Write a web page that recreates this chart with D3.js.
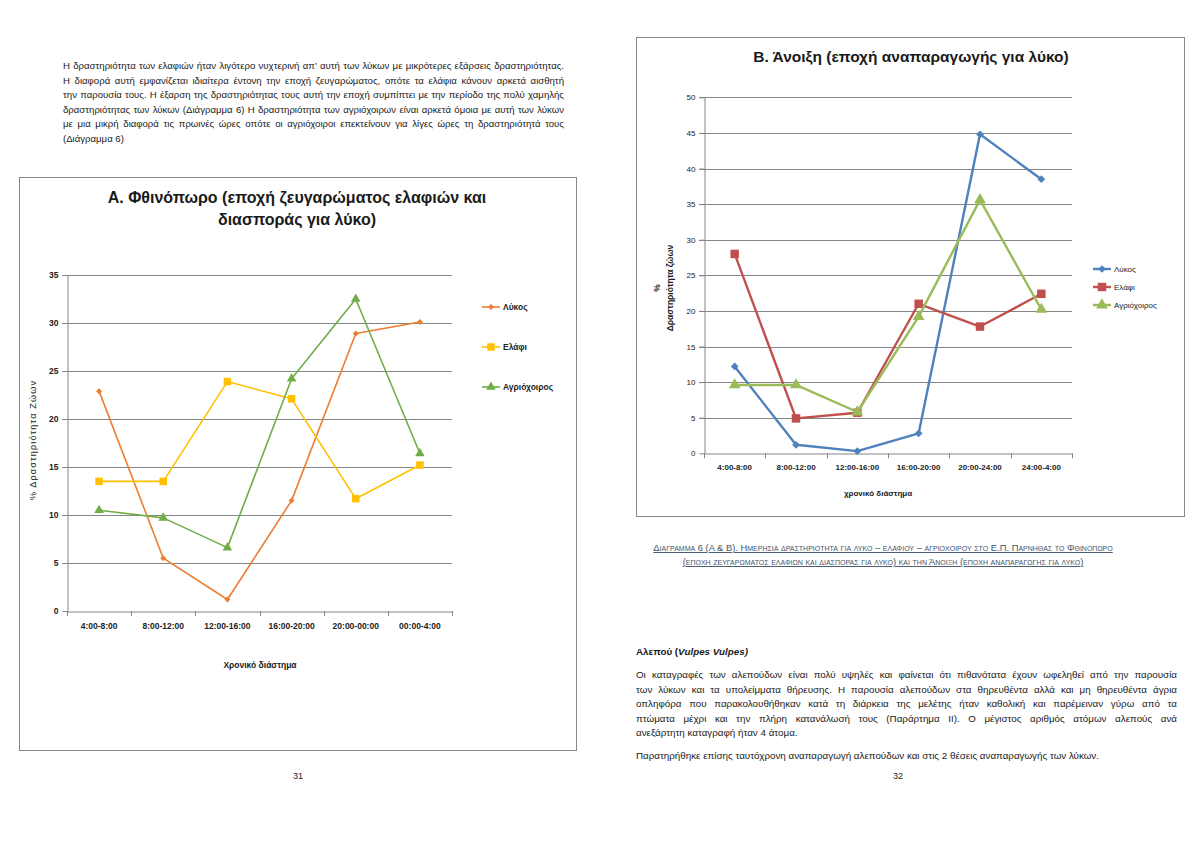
<!DOCTYPE html>
<html><head><meta charset="utf-8">
<script src="https://cdn.jsdelivr.net/npm/d3@7"></script>
<style>
html,body{margin:0;padding:0;background:#fff;}
#wrap{position:relative;width:1200px;height:848px;overflow:hidden;font-family:"Liberation Sans",Arial,sans-serif;}
svg{position:absolute;left:0;top:0;}
.ln{position:absolute;color:#1a1a1a;line-height:12px;height:12px;overflow:visible;}
.j{text-align:justify;text-align-last:justify;}
.meas{position:absolute;visibility:hidden;white-space:nowrap;left:0;top:0;}
</style></head>
<body><div id="wrap"></div>
<script>
// ---------- DATA ----------
const categoriesA = ["4:00-8:00","8:00-12:00","12:00-16:00","16:00-20:00","20:00-00:00","00:00-4:00"];
const lykosA  = [22.9, 5.5, 1.2, 11.5, 28.9, 30.1];
const elafiA  = [13.5, 13.5, 23.9, 22.1, 11.7, 15.2];
const agrioA  = [10.5, 9.7, 6.6, 24.2, 32.5, 16.4];
const categoriesB = ["4:00-8:00","8:00-12:00","12:00-16:00","16:00-20:00","20:00-24:00","24:00-4:00"];
const lykosB  = [12.2, 1.2, 0.3, 2.8, 44.8, 38.5];
const elafiB  = [28.0, 4.9, 5.7, 21.0, 17.8, 22.4];
const agrioB  = [9.6, 9.6, 5.8, 19.2, 35.6, 20.2];
const seriesNames = ["Λύκος","Ελάφι","Αγριόχοιρος"];
const ticksA = [0,5,10,15,20,25,30,35];
const ticksB = [0,5,10,15,20,25,30,35,40,45,50];

const leftParagraph = [
 "Η δραστηριότητα των ελαφιών ήταν λιγότερο νυχτερινή απ’ αυτή των λύκων με μικρότερες εξάρσεις δραστηριότητας.",
 "Η διαφορά αυτή εμφανίζεται ιδιαίτερα έντονη την εποχή ζευγαρώματος, οπότε τα ελάφια κάνουν αρκετά αισθητή",
 "την παρουσία τους.  Η έξαρση της δραστηριότητας τους αυτή την εποχή συμπίπτει με την περίοδο της πολύ χαμηλής",
 "δραστηριότητας των λύκων (Διάγραμμα 6) Η δραστηριότητα των αγριόχοιρων είναι αρκετά όμοια με αυτή των λύκων",
 "με μια μικρή διαφορά τις πρωινές ώρες οπότε οι αγριόχοιροι επεκτείνουν για λίγες ώρες τη δραστηριότητά τους",
 "(Διάγραμμα  6)"
];
const rightParagraph = [
 "Οι καταγραφές των αλεπούδων είναι πολύ υψηλές και φαίνεται ότι πιθανότατα έχουν ωφεληθεί από την παρουσία",
 "των λύκων και τα υπολείμματα θήρευσης. Η παρουσία αλεπούδων στα θηρευθέντα αλλά και μη θηρευθέντα άγρια",
 "οπληφόρα που παρακολουθήθηκαν κατά τη διάρκεια της μελέτης ήταν καθολική και παρέμειναν γύρω από τα",
 "πτώματα μέχρι και την πλήρη κατανάλωσή τους (Παράρτημα ΙΙ). Ο μέγιστος αριθμός ατόμων αλεπούς ανά",
 "ανεξάρτητη καταγραφή ήταν 4 άτομα."
];
const lastRightLine = "Παρατηρήθηκε επίσης ταυτόχρονη αναπαραγωγή αλεπούδων και στις 2 θέσεις αναπαραγωγής των λύκων.";
const captionLines = [
 "Διαγραμμα 6 (Α & Β). Ημερησια δραστηριοτητα για λυκο – ελαφιου – αγριοχοιρου στο Ε.Π. Παρνηθας το Φθινοπωρο",
 "(εποχη ζευγαρωματος ελαφιων και διασπορας για λυκο) και την Άνοιξη (εποχη αναπαραγωγης για λυκο)"
];

// ---------- PAGE ----------
const wrap = d3.select("#wrap");
function fitSize(lines, width, maxSize){
  const m = wrap.append("span").attr("class","meas").style("font-size","10px");
  let maxW = 0;
  lines.forEach(t=>{ m.text(t); maxW = Math.max(maxW, m.node().getBoundingClientRect().width); });
  m.remove();
  return Math.min(maxSize, 10*(width-4)/maxW);
}
function addLines(lines, left, width, top0, step, size, justifyCount){
  lines.forEach((t,i)=>{
    wrap.append("div").attr("class","ln"+(i<justifyCount?" j":""))
      .style("left",left+"px").style("width",width+"px")
      .style("top",(top0+i*step-6)+"px").style("font-size",size+"px")
      .text(t);
  });
}
const leftSize = fitSize(leftParagraph.slice(0,5), 501, 9.6);
addLines(leftParagraph, 63, 501, 66, 14.6, leftSize, 5);
const rightSize = fitSize(rightParagraph.slice(0,4), 541, 9.8);
addLines(rightParagraph, 636, 541, 675, 14.5, rightSize, 4);
wrap.append("div").attr("class","ln").style("left","636px").style("top",(756-6)+"px")
  .style("font-size",rightSize+"px").text(lastRightLine);
wrap.append("div").attr("class","ln").style("left","636px").style("top",(652-6)+"px")
  .style("font-size",rightSize+"px").style("font-weight","bold")
  .html("Αλεπού (<i>Vulpes Vulpes)</i>");

const svg = wrap.append("svg").attr("width",1200).attr("height",848)
  .style("font-family","'Liberation Sans',Arial,sans-serif");

// page numbers
svg.append("text").attr("x",298).attr("y",779).attr("text-anchor","middle").attr("font-size",9).attr("fill","#222").text("31");
svg.append("text").attr("x",898).attr("y",779).attr("text-anchor","middle").attr("font-size",9).attr("fill","#222").text("32");

// caption
captionLines.forEach((t,i)=>{
  svg.append("text").attr("x",883).attr("y",551+i*14).attr("text-anchor","middle")
    .attr("font-size",9.4).attr("fill","#44546A").style("font-variant","small-caps")
    .style("text-decoration","underline").text(t);
});

const grid = "#868686";
function symbolPath(type, size){ return d3.symbol().type(type).size(size)(); }

function drawChart(cfg){
  const g = svg.append("g");
  g.append("rect").attr("x",cfg.frame[0]+0.5).attr("y",cfg.frame[1]+0.5)
    .attr("width",cfg.frame[2]).attr("height",cfg.frame[3])
    .attr("fill","none").attr("stroke",grid).attr("stroke-width",1);
  const x = d3.scaleBand().domain(cfg.cats).range([cfg.x0,cfg.x1]);
  const y = d3.scaleLinear().domain([0,cfg.ymax]).range([cfg.y0,cfg.y1]);
  g.append("g").selectAll("line").data(cfg.ticks.filter(d=>d>0)).join("line")
    .attr("x1",cfg.x0-5).attr("x2",cfg.x1)
    .attr("y1",d=>Math.round(y(d))+0.5).attr("y2",d=>Math.round(y(d))+0.5)
    .attr("stroke",grid).attr("stroke-width",1);
  const ya = g.append("g").attr("transform",`translate(${cfg.x0+0.5},0)`)
    .call(d3.axisLeft(y).tickValues(cfg.ticks).tickSize(5).tickSizeOuter(0));
  ya.select(".domain").attr("stroke",grid);
  ya.selectAll(".tick line").attr("stroke",grid);
  ya.selectAll(".tick text").attr("font-size",cfg.tickSize).attr("font-weight",cfg.yBold?"bold":"normal")
    .attr("fill","#222").attr("x",-9).style("font-family","'Liberation Sans',Arial,sans-serif");
  const xa = g.append("g").attr("transform",`translate(0,${Math.round(cfg.y0)+0.5})`)
    .call(d3.axisBottom(x).tickSize(0).tickSizeOuter(0));
  xa.select(".domain").attr("stroke",grid);
  xa.selectAll(".tick text").attr("font-size",cfg.tickSize).attr("font-weight","bold")
    .attr("fill","#222").attr("y",cfg.xLabelDy).style("font-family","'Liberation Sans',Arial,sans-serif");
  const bounds = cfg.cats.map((c)=>x(c)).concat([cfg.x1]);
  g.append("g").selectAll("line").data(bounds).join("line")
    .attr("x1",d=>Math.round(d)+0.5).attr("x2",d=>Math.round(d)+0.5)
    .attr("y1",cfg.y0).attr("y2",cfg.y0+5).attr("stroke",grid);
  cfg.series.forEach((s)=>{
    const line = d3.line().x((d,i)=>x(cfg.cats[i])+x.bandwidth()/2).y(d=>y(d));
    g.append("path").datum(s.values).attr("d",line).attr("fill","none")
      .attr("stroke",s.color).attr("stroke-width",cfg.lw).attr("stroke-linejoin","round");
    g.append("g").selectAll("path").data(s.values).join("path")
      .attr("transform",(d,i)=>`translate(${x(cfg.cats[i])+x.bandwidth()/2},${y(d)}) rotate(${s.rot||0})`)
      .attr("d",symbolPath(s.symbol,s.size)).attr("fill",s.color);
  });
  cfg.series.forEach((s,i)=>{
    const ly = cfg.legend.y0 + i*cfg.legend.step;
    g.append("line").attr("x1",cfg.legend.x).attr("x2",cfg.legend.x+18).attr("y1",ly).attr("y2",ly)
      .attr("stroke",s.color).attr("stroke-width",cfg.lw);
    g.append("path").attr("transform",`translate(${cfg.legend.x+9},${ly}) rotate(${s.rot||0})`)
      .attr("d",symbolPath(s.symbol,s.size)).attr("fill",s.color);
    g.append("text").attr("x",cfg.legend.x+21).attr("y",ly).attr("dy","0.35em")
      .attr("font-size",cfg.legend.size).attr("font-weight",cfg.legend.bold?"bold":"normal")
      .attr("fill","#222").text(s.name);
  });
  return g;
}

const gA = drawChart({
  frame:[19,177,557,573], cats:categoriesA, x0:67, x1:452, y0:611, y1:275, ymax:35,
  ticks:ticksA, tickSize:8.5, yBold:true, xLabelDy:11, lw:1.6,
  series:[
    {name:seriesNames[0], values:lykosA, color:"#ED7D31", symbol:d3.symbolSquare, size:18, rot:45},
    {name:seriesNames[1], values:elafiA, color:"#FFC000", symbol:d3.symbolSquare, size:56},
    {name:seriesNames[2], values:agrioA, color:"#70AD47", symbol:d3.symbolTriangle, size:40}
  ],
  legend:{x:482, y0:307, step:40, size:8.5, bold:true}
});
gA.append("text").attr("x",297).attr("y",203).attr("text-anchor","middle").attr("font-size",16)
  .attr("font-weight","bold").attr("fill","#1a1a1a").text("Α. Φθινόπωρο (εποχή ζευγαρώματος ελαφιών και");
gA.append("text").attr("x",297).attr("y",225).attr("text-anchor","middle").attr("font-size",16)
  .attr("font-weight","bold").attr("fill","#1a1a1a").text("διασποράς για λύκο)");
gA.append("text").attr("x",260).attr("y",668).attr("text-anchor","middle").attr("font-size",8.5)
  .attr("font-weight","bold").attr("fill","#1a1a1a").text("Χρονικό διάστημα");
gA.append("text").attr("transform","translate(36,440) rotate(-90)").attr("text-anchor","middle")
  .attr("font-size",9).attr("letter-spacing",1.2).attr("fill","#1a1a1a").text("% Δραστηριότητα Ζώων");

const gB = drawChart({
  frame:[636,37,548,479], cats:categoriesB, x0:704, x1:1072, y0:453.3, y1:97.3, ymax:50,
  ticks:ticksB, tickSize:8, yBold:false, xLabelDy:11, lw:2.4,
  series:[
    {name:seriesNames[0], values:lykosB, color:"#4F81BD", symbol:d3.symbolSquare, size:30, rot:45},
    {name:seriesNames[1], values:elafiB, color:"#C0504D", symbol:d3.symbolSquare, size:72},
    {name:seriesNames[2], values:agrioB, color:"#9BBB59", symbol:d3.symbolTriangle, size:60}
  ],
  legend:{x:1093, y0:269, step:18, size:8, bold:false}
});
gB.append("text").attr("x",911).attr("y",62).attr("text-anchor","middle").attr("font-size",15.5)
  .attr("font-weight","bold").attr("fill","#1a1a1a").text("Β. Άνοιξη (εποχή αναπαραγωγής για λύκο)");
gB.append("text").attr("x",878).attr("y",496).attr("text-anchor","middle").attr("font-size",8)
  .attr("font-weight","bold").attr("fill","#1a1a1a").text("χρονικό διάστημα");
gB.append("text").attr("transform","translate(660,288) rotate(-90)").attr("text-anchor","middle")
  .attr("font-size",8.5).attr("font-weight","bold").attr("fill","#1a1a1a").text("%");
gB.append("text").attr("transform","translate(673,288) rotate(-90)").attr("text-anchor","middle")
  .attr("font-size",8.5).attr("font-weight","bold").attr("fill","#1a1a1a").text("Δραστηριότητα ζώων");
</script></body></html>
